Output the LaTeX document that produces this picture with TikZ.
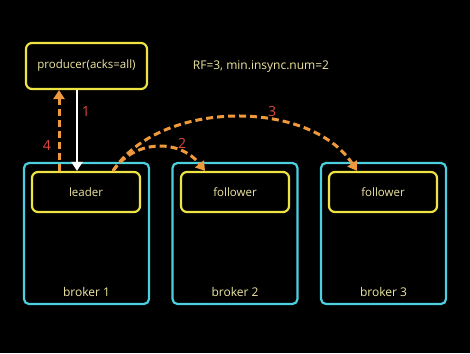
\documentclass[tikz,border=0pt]{standalone}
\usepackage{fontspec}
\setmainfont{Open Sans}
\usepackage{xcolor}
\usetikzlibrary{arrows.meta}
\definecolor{boxyellow}{HTML}{EFE344}
\definecolor{txtyellow}{HTML}{EEE6A2}
\definecolor{brokercyan}{HTML}{4CCFDF}
\definecolor{ackorange}{HTML}{EE9A3C}
\definecolor{numred}{HTML}{E0463C}

\begin{document}
\begin{tikzpicture}[x=1pt,y=-1pt,>={Triangle[length=9pt,width=11pt]},
  part/.style={draw=boxyellow,line width=2.2pt,rounded corners=6pt,text=txtyellow,font=\fontsize{11.5}{13}\selectfont},
  brokerbox/.style={draw=brokercyan,line width=2.2pt,rounded corners=5pt,minimum width=125pt,minimum height=141pt},
  lbl/.style={text=txtyellow,font=\fontsize{12}{14}\selectfont},
  num/.style={text=numred,font=\fontsize{14}{16}\selectfont},
  repl/.style={ackorange,line width=3pt,dash pattern=on 7pt off 4pt,->}]
  \fill[black] (0,0) rectangle (470,353);
  \useasboundingbox (0,0) rectangle (470,353);
  % brokers
  \node[brokerbox] (b1) at (86.5,233.5) {};
  \node[brokerbox] (b2) at (235,233.5) {};
  \node[brokerbox] (b3) at (383.5,233.5) {};
  \node[lbl] (b1l) at (86.5,292) {broker 1};
  \node[lbl] (b2l) at (235,292) {broker 2};
  \node[lbl] (b3l) at (383.5,292) {broker 3};
  \node[part,minimum width=108pt,minimum height=40pt] (leader) at (86,192) {leader};
  \node[part,minimum width=108pt,minimum height=40pt] (f2) at (235,192) {follower};
  \node[part,minimum width=108pt,minimum height=40pt] (f3) at (383,192) {follower};
  % producer
  \node[part,minimum width=121pt,minimum height=46pt] (prod) at (86.5,66) {producer(acks=all)};
  \node[lbl] (rf) at (261,67) {RF=3, min.insync.num=2};
  % arrows
  \draw[white,line width=2.2pt,->] ([xshift=-9.5pt]prod.south) -- ([xshift=-9pt]leader.north);
  \draw[repl] ([xshift=-27pt]leader.north) -- ([xshift=-27.5pt]prod.south);
  \coordinate (src) at ([xshift=27pt]leader.north);
  \draw[repl] (src) .. controls +(22,-32) and +(-25,-32) .. ([xshift=-30pt]f2.north);
  \draw[repl] (src) .. controls +(47,-72) and +(-47,-72) .. ([xshift=-26pt]f3.north);
  \node[num] (n1) at (86,112) {1};
  \node[num] (n4) at (47,145) {4};
  \node[num] (n2) at (182,143) {2};
  \node[num] (n3) at (272,111) {3};
\end{tikzpicture}
\end{document}
